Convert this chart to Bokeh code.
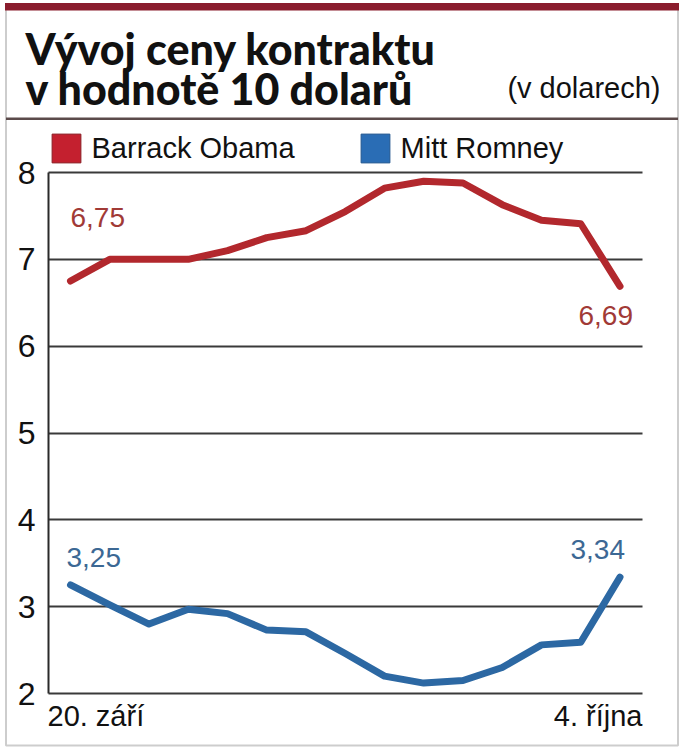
import numpy as np
from bokeh.plotting import figure
from bokeh.models import (Range1d, FixedTicker, Label, BoxAnnotation, Legend,
                          LegendItem, ColumnDataSource)
from bokeh.embed import file_html
from bokeh.resources import INLINE

# ---------------- data ----------------
dates = ["20. září", "21. září", "22. září", "23. září", "24. září", "25. září",
         "26. září", "27. září", "28. září", "29. září", "30. září",
         "1. října", "2. října", "3. října", "4. října"]
obama = [6.75, 7.00, 7.00, 7.00, 7.10, 7.25, 7.33, 7.55, 7.82, 7.90, 7.88,
         7.63, 7.45, 7.41, 6.69]
romney = [3.25, 3.02, 2.80, 2.97, 2.92, 2.73, 2.71, 2.46, 2.20, 2.12, 2.15,
          2.30, 2.56, 2.59, 3.34]
series_names = ["Barrack Obama", "Mitt Romney"]
y_ticks = [2, 3, 4, 5, 6, 7, 8]
title_lines = ["Vývoj ceny kontraktu", "v hodnotě 10 dolarů"]
unit_text = "(v dolarech)"

# ---------------- style / geometry ----------------
W, H = 688, 755
X0, DX = 70.0, 39.25        # canvas x of first day, px per day
Y2, DY = 693.0, 86.83       # canvas y of value 2, px per unit
AXIS_X, GRID_RIGHT = 48.0, 642.0
CORR = 12                   # baseline correction for labels

RED_LINE = "#b2282d"
BLUE_LINE = "#2c68a3"
RED_SQ = "#c4202f"
BLUE_SQ = "#2a6db5"
RED_TXT = "#a13a36"
BLUE_TXT = "#3c6894"
BODY_FONT = "Liberation Sans, Arial, sans-serif"
TITLE_FONT = "Lato Black, Lato, sans-serif"


def cx2d(cx):
    return (cx - X0) / DX


def cy2d(cy):
    return y_ticks[0] + (Y2 - cy) / DY


def fmt(v):
    return f"{v:.2f}".replace(".", ",")


x = list(range(len(dates)))
src = ColumnDataSource(dict(x=x, obama=obama, romney=romney))

p = figure(width=W, height=H, output_backend="svg", toolbar_location=None,
           title=None, x_axis_location=None,
           x_range=Range1d(cx2d(0), cx2d(W)), y_range=Range1d(cy2d(H), cy2d(0)),
           min_border_left=0, min_border_right=0, min_border_top=0,
           min_border_bottom=0, background_fill_color="white",
           border_fill_color="white")
p.outline_line_color = None
p.xgrid.visible = False

yax = p.yaxis[0]
yax.fixed_location = cx2d(AXIS_X)
yax.ticker = FixedTicker(ticks=y_ticks)
yax.bounds = (y_ticks[0], y_ticks[-1])
yax.major_tick_line_color = None
yax.minor_tick_line_color = None
yax.axis_line_color = "#2a2a2a"
yax.axis_line_width = 2
yax.major_label_standoff = 7
yax.major_label_text_font = BODY_FONT
yax.major_label_text_font_size = "32px"
yax.major_label_text_color = "#111111"

grid = p.ygrid[0]
grid.ticker = FixedTicker(ticks=y_ticks)
grid.grid_line_color = "#3a3a3a"
grid.grid_line_width = 2
if "cross_bounds" in grid.properties():
    grid.cross_bounds = (cx2d(AXIS_X), cx2d(GRID_RIGHT))
else:
    grid.visible = False
    p.segment(x0=[cx2d(AXIS_X)] * len(y_ticks), x1=[cx2d(GRID_RIGHT)] * len(y_ticks),
              y0=y_ticks, y1=y_ticks, line_color="#3a3a3a", line_width=2)

# lines
p.line("x", "obama", source=src, line_color=RED_LINE, line_width=7,
       line_join="round", line_cap="round")
p.line("x", "romney", source=src, line_color=BLUE_LINE, line_width=7,
       line_join="round", line_cap="round")

# legend (square swatches; glyphs carry no drawable data)
nan1 = np.array([np.nan])
r_ob = p.quad(left=nan1, right=nan1, top=nan1, bottom=nan1, fill_color=RED_SQ,
              line_color="#8a1f25", line_width=1)
r_ro = p.quad(left=nan1, right=nan1, top=nan1, bottom=nan1, fill_color=BLUE_SQ,
              line_color="#24588f", line_width=1)
legend = Legend(items=[LegendItem(label=series_names[0], renderers=[r_ob]),
                       LegendItem(label=series_names[1], renderers=[r_ro])],
                orientation="horizontal", location=(47.5, H - 166),
                glyph_width=36, glyph_height=36, label_standoff=8, spacing=62,
                padding=2, margin=0, border_line_color=None,
                background_fill_alpha=0,
                label_text_font=BODY_FONT, label_text_font_size="29px",
                label_text_color="#111111")
p.add_layout(legend, "center")

# end value labels
lab_kw = dict(text_font=BODY_FONT, text_font_size="28px",
              text_baseline="alphabetic")
p.add_layout(Label(x=x[0], y=obama[0], text=fmt(obama[0]), text_align="left",
                   x_offset=0, y_offset=52 + CORR, text_color=RED_TXT, **lab_kw))
p.add_layout(Label(x=x[-1], y=obama[-1], text=fmt(obama[-1]), text_align="right",
                   x_offset=13, y_offset=-41 + CORR, text_color=RED_TXT, **lab_kw))
p.add_layout(Label(x=x[0], y=romney[0], text=fmt(romney[0]), text_align="left",
                   x_offset=-4, y_offset=15 + CORR, text_color=BLUE_TXT, **lab_kw))
p.add_layout(Label(x=x[-1], y=romney[-1], text=fmt(romney[-1]), text_align="right",
                   x_offset=5, y_offset=16 + CORR, text_color=BLUE_TXT, **lab_kw))

# x end labels
xl_kw = dict(x_units="screen", y_units="screen", text_font=BODY_FONT,
             text_font_size="29px", text_baseline="alphabetic",
             text_color="#111111")
p.add_layout(Label(x=47, y=H - 727 + CORR, text=dates[0], text_align="left", **xl_kw))
p.add_layout(Label(x=GRID_RIGHT, y=H - 727 + CORR, text=dates[-1], text_align="right", **xl_kw))

# title block
t_kw = dict(x_units="screen", y_units="screen", text_font=TITLE_FONT,
            text_font_size="43px", text_font_style="bold",
            text_baseline="alphabetic", text_color="#111111", text_align="left")
p.add_layout(Label(x=25, y=H - 60 + CORR, text=title_lines[0], **t_kw))
p.add_layout(Label(x=25, y=H - 100 + CORR, text=title_lines[1], **t_kw))
p.add_layout(Label(x=660, y=H - 99 + CORR, text=unit_text, x_units="screen",
                   y_units="screen", text_font=BODY_FONT, text_font_size="29px",
                   text_baseline="alphabetic", text_align="right",
                   text_color="#111111"))

# frame decorations
box_units = dict(left_units="screen", right_units="screen",
                 top_units="screen", bottom_units="screen")
p.add_layout(BoxAnnotation(left=5.5, right=677.5, top=H - 4, bottom=H - 745,
                           fill_alpha=0, line_color="#5a5a5a", line_width=2,
                           **box_units))
p.add_layout(BoxAnnotation(left=4.5, right=678.5, top=H - 2.5, bottom=H - 10,
                           fill_color="#8a1d2d", fill_alpha=1,
                           line_color=None, **box_units))
p.add_layout(BoxAnnotation(left=5.5, right=677.5, top=H - 117, bottom=H - 119.5,
                           fill_color="#5b4a4a", fill_alpha=1,
                           line_color=None, **box_units))

open("out.html", "w").write(file_html(p, INLINE))
